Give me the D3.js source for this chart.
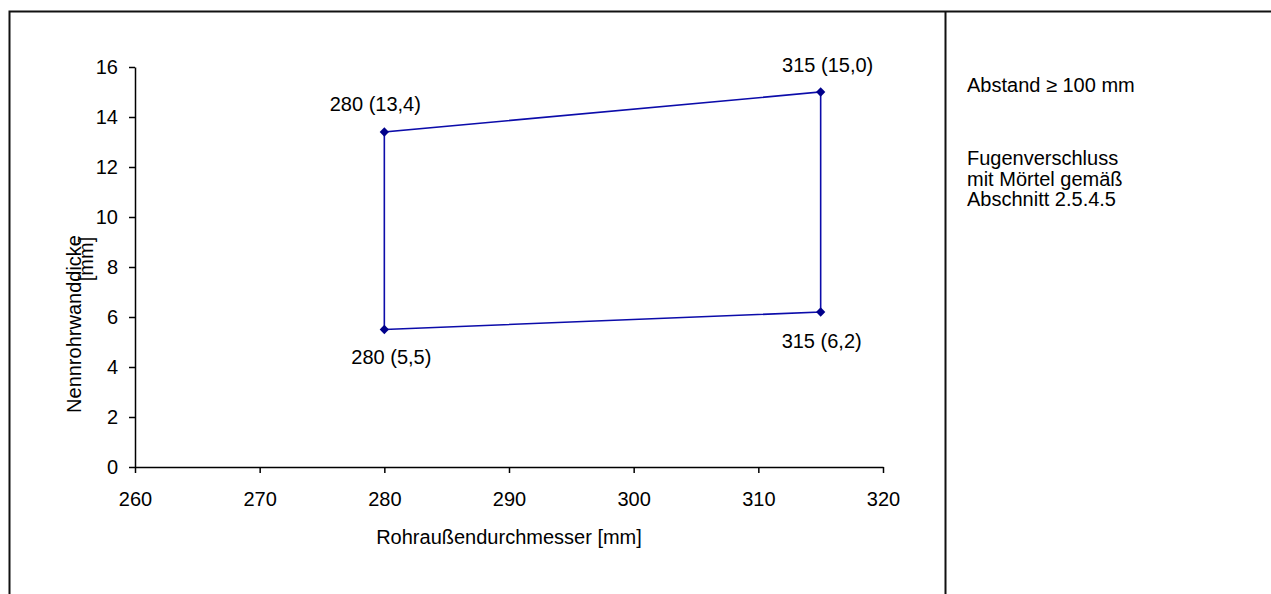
<!DOCTYPE html>
<html>
<head>
<meta charset="utf-8">
<script src="https://cdn.jsdelivr.net/npm/d3@7"></script>
<style>
  html, body { margin: 0; padding: 0; background: #fff; }
  svg { display: block; font-family: Arial, "Liberation Sans", sans-serif; }
</style>
</head>
<body>
<svg id="chart" width="1271" height="594"></svg>
<script>
// Corner points of the permitted range (outer diameter, wall thickness)
const diameters = [280, 280, 315, 315];
const wallThickness = [5.5, 13.4, 15.0, 6.2];
const pointLabels = ["280 (5,5)", "280 (13,4)", "315 (15,0)", "315 (6,2)"];
// label offsets relative to each point: [dx, dy]
const labelOffsets = [[7, 34], [-9, -21], [7, -20], [1, 36]];

const xTicks = [260, 270, 280, 290, 300, 310, 320];
const yTicks = [0, 2, 4, 6, 8, 10, 12, 14, 16];

const xTitle = "Rohraußendurchmesser [mm]";
const yTitleLines = ["Nennrohrwanddicke", "[mm]"];
const noteLines = [["Abstand \u2265 100 mm"], ["Fugenverschluss", "mit Mörtel gemäß", "Abschnitt 2.5.4.5"]];

const svg = d3.select("#chart");
const fontSize = 20;
const lineColor = "#0c0caa";
const markerColor = "#00008b";

// Frame around the chart and the note panel
svg.append("path")
  .attr("d", "M9.5,600 V11.5 H1271 M945.5,11.5 V600")
  .attr("fill", "none").attr("stroke", "#111").attr("stroke-width", 2);

const x = d3.scaleLinear().domain([260, 320]).range([135, 883]);
const y = d3.scaleLinear().domain([0, 16]).range([467, 67]);

const xAxis = svg.append("g")
  .attr("transform", `translate(0,${y(0)})`)
  .call(d3.axisBottom(x).tickValues(xTicks).tickSize(6).tickPadding(19).tickSizeOuter(0).tickFormat(d3.format("d")));
const yAxis = svg.append("g")
  .attr("transform", `translate(${x(260)},0)`)
  .call(d3.axisLeft(y).tickValues(yTicks).tickSize(6).tickPadding(11).tickSizeOuter(0).tickFormat(d3.format("d")));

[xAxis, yAxis].forEach(g => {
  g.select(".domain").attr("stroke", "#000").attr("stroke-width", 1.5);
  g.selectAll(".tick line").attr("stroke", "#000").attr("stroke-width", 1.5);
  g.selectAll(".tick text").attr("fill", "#000").style("font-size", fontSize + "px")
    .style("font-family", "Arial, 'Liberation Sans', sans-serif");
});

// Axis titles
svg.append("text")
  .attr("x", (x(260) + x(320)) / 2).attr("y", 544)
  .attr("text-anchor", "middle").style("font-size", fontSize + "px")
  .text(xTitle);

const yTitlePos = [[81, 324], [93, 259]];
yTitleLines.forEach((t, i) => {
  svg.append("text")
    .attr("transform", `translate(${yTitlePos[i][0]},${yTitlePos[i][1]}) rotate(-90)`)
    .attr("text-anchor", "middle").style("font-size", fontSize + "px")
    .text(t);
});

// Outline of the range
const pts = diameters.map((d, i) => [d, wallThickness[i]]);
const line = d3.line().x(d => x(d[0])).y(d => y(d[1]));
svg.append("path")
  .datum([...pts, pts[0]])
  .attr("d", line)
  .attr("fill", "none").attr("stroke", lineColor).attr("stroke-width", 1.6);

// Diamond markers
svg.selectAll("path.marker")
  .data(pts).enter().append("path")
  .attr("class", "marker")
  .attr("d", d3.symbol().type(d3.symbolDiamond2).size(55))
  .attr("transform", d => `translate(${x(d[0])},${y(d[1])})`)
  .attr("fill", markerColor);

// Point labels
svg.selectAll("text.plabel")
  .data(pts).enter().append("text")
  .attr("class", "plabel")
  .attr("x", (d, i) => x(d[0]) + labelOffsets[i][0])
  .attr("y", (d, i) => y(d[1]) + labelOffsets[i][1])
  .attr("text-anchor", "middle").style("font-size", fontSize + "px")
  .text((d, i) => pointLabels[i]);

// Notes in the right-hand panel
const noteStarts = [92, 165];
noteLines.forEach((block, b) => {
  block.forEach((t, i) => {
    svg.append("text")
      .attr("x", 967).attr("y", noteStarts[b] + i * 20.5)
      .style("font-size", fontSize + "px")
      .text(t);
  });
});
</script>
</body>
</html>
